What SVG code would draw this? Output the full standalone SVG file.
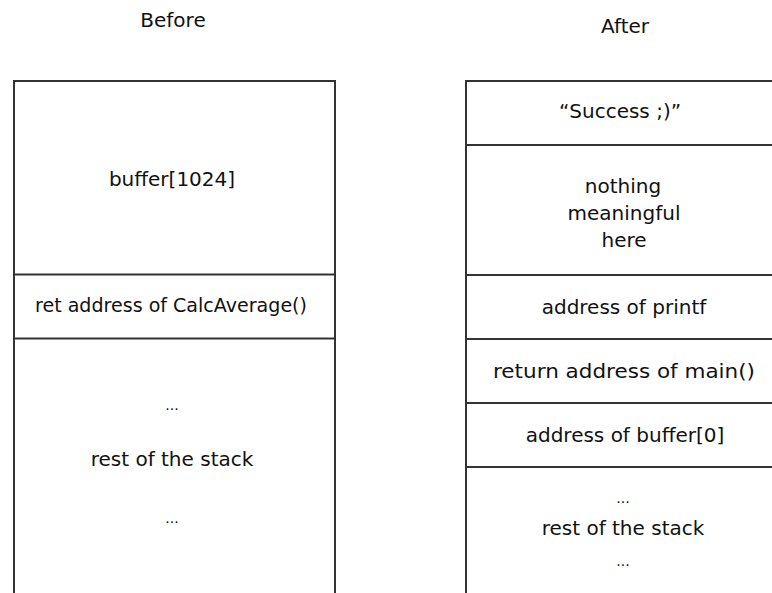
<svg xmlns="http://www.w3.org/2000/svg" width="772" height="593" viewBox="0 0 772 593">
<style>
.ln{stroke:#333;stroke-width:2;fill:none}
.t{font-family:"DejaVu Sans",Verdana,sans-serif;font-size:20px;fill:#111;text-anchor:middle}
.d{font-family:"DejaVu Sans",Verdana,sans-serif;font-size:14px;fill:#111;text-anchor:middle}
</style>
<rect width="772" height="593" fill="#fff"/>
<g id="titles">
<text class="t" x="173" y="27">Before</text>
<text class="t" x="625" y="33">After</text>
</g>
<g id="connectors">
<path class="ln" d="M14,593 V81 H335 V593"/>
<path class="ln" d="M14,274.5 H335 M14,338.5 H335"/>
<path class="ln" d="M466,593 V81 H772"/>
<path class="ln" d="M466,145 H772 M466,275 H772 M466,339 H772 M466,403 H772 M466,467 H772"/>
</g>
<g id="before-buffer"><text class="t" x="172" y="186">buffer[1024]</text></g>
<g id="before-ret"><text class="t" x="171" y="312" textLength="272" lengthAdjust="spacingAndGlyphs">ret address of CalcAverage()</text></g>
<g id="before-rest">
<text class="d" x="172" y="410">...</text>
<text class="t" x="172" y="466">rest of the stack</text>
<text class="d" x="172" y="523">...</text>
</g>
<g id="after-success"><text class="t" x="620" y="118">“Success ;)”</text></g>
<g id="after-nothing">
<text class="t" x="623" y="193">nothing</text>
<text class="t" x="624" y="220">meaningful</text>
<text class="t" x="624" y="247">here</text>
</g>
<g id="after-printf"><text class="t" x="624" y="314">address of printf</text></g>
<g id="after-main"><text class="t" x="624" y="378" textLength="262" lengthAdjust="spacingAndGlyphs">return address of main()</text></g>
<g id="after-buffer"><text class="t" x="625" y="442">address of buffer[0]</text></g>
<g id="after-rest">
<text class="d" x="623" y="503">...</text>
<text class="t" x="623" y="535">rest of the stack</text>
<text class="d" x="623" y="566">...</text>
</g>
</svg>
